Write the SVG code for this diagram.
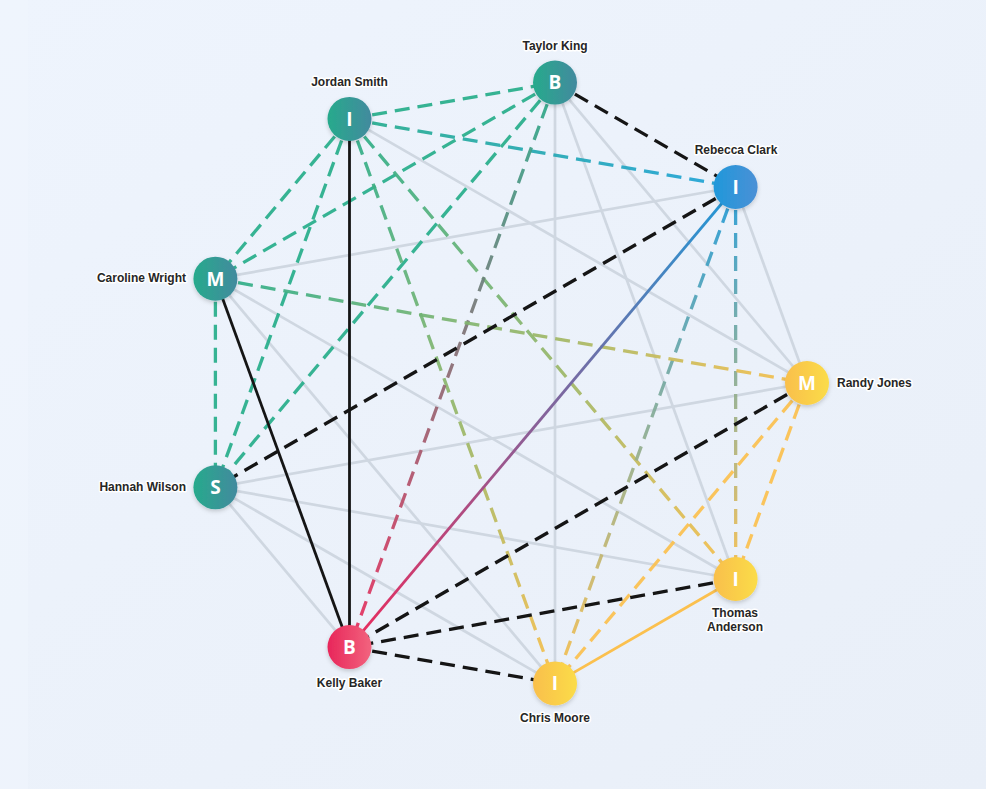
<svg xmlns="http://www.w3.org/2000/svg" width="986" height="789" viewBox="0 0 986 789">
<defs>
<linearGradient id="bg" x1="0" y1="0" x2="1" y2="1">
<stop offset="0" stop-color="#eef4fd"/>
<stop offset="1" stop-color="#e9eff8"/>
</linearGradient>
<linearGradient id="nTeal" x1="0" y1="0" x2="1" y2="0">
<stop offset="0" stop-color="#27aa8c"/>
<stop offset="1" stop-color="#428a9e"/>
</linearGradient>
<linearGradient id="nBlue" x1="0" y1="0" x2="1" y2="0">
<stop offset="0" stop-color="#1f98da"/>
<stop offset="1" stop-color="#4b90d6"/>
</linearGradient>
<linearGradient id="nYellow" x1="0" y1="0" x2="1" y2="0">
<stop offset="0" stop-color="#f9bf4c"/>
<stop offset="1" stop-color="#fbdc48"/>
</linearGradient>
<linearGradient id="nRed" x1="0" y1="0" x2="1" y2="0">
<stop offset="0" stop-color="#e8265a"/>
<stop offset="1" stop-color="#f2647e"/>
</linearGradient>
<linearGradient id="gJR" gradientUnits="userSpaceOnUse" x1="349.5" y1="118.9" x2="735.6" y2="187"><stop offset="0" stop-color="#27ad8a"/><stop offset="1" stop-color="#1fa2da"/></linearGradient>
<linearGradient id="gJTh" gradientUnits="userSpaceOnUse" x1="349.5" y1="118.9" x2="735.6" y2="579"><stop offset="0" stop-color="#27ad8a"/><stop offset="1" stop-color="#fbbf4a"/></linearGradient>
<linearGradient id="gJCh" gradientUnits="userSpaceOnUse" x1="349.5" y1="118.9" x2="555" y2="683.4"><stop offset="0" stop-color="#27ad8a"/><stop offset="1" stop-color="#fbbf4a"/></linearGradient>
<linearGradient id="gTK" gradientUnits="userSpaceOnUse" x1="555" y1="82.6" x2="349.5" y2="647.1"><stop offset="0" stop-color="#27ad8a"/><stop offset="1" stop-color="#ec2a5c"/></linearGradient>
<linearGradient id="gRK" gradientUnits="userSpaceOnUse" x1="735.6" y1="187" x2="349.5" y2="647.1"><stop offset="0" stop-color="#1f9ad8"/><stop offset="1" stop-color="#ec2a5c"/></linearGradient>
<linearGradient id="gRCh" gradientUnits="userSpaceOnUse" x1="735.6" y1="187" x2="555" y2="683.4"><stop offset="0" stop-color="#1f9ad8"/><stop offset="1" stop-color="#fbbf4a"/></linearGradient>
<linearGradient id="gRTh" gradientUnits="userSpaceOnUse" x1="735.6" y1="187" x2="735.6" y2="579"><stop offset="0" stop-color="#1f9ad8"/><stop offset="1" stop-color="#fbbf4a"/></linearGradient>
<linearGradient id="gCRa" gradientUnits="userSpaceOnUse" x1="215.4" y1="278.7" x2="807" y2="383"><stop offset="0" stop-color="#27ad8a"/><stop offset="1" stop-color="#fbbf4a"/></linearGradient>
<filter id="sh" x="-50%" y="-50%" width="200%" height="200%">
<feDropShadow dx="0" dy="2" stdDeviation="2" flood-color="#000" flood-opacity="0.18"/>
</filter>
<style>
.e{fill:none;stroke-linecap:butt}
.g{stroke:#cfd7e1;stroke-width:2.7}
.d{stroke-width:3.3;stroke-dasharray:15 8;opacity:0.92}
.s{stroke-width:2.8}
.k{stroke:#151515;opacity:1}
.t{stroke:#26ae8a}
.y{stroke:#fbc04e}
.lbl{font-family:"Liberation Sans",Arial,sans-serif;font-weight:bold;font-size:12px;fill:#262626;stroke:#ffffff;stroke-width:3;stroke-linejoin:round;paint-order:stroke}
.ltr{font-family:"Open Sans","Noto Sans","DejaVu Sans",sans-serif;font-weight:bold;font-size:19px;fill:#ffffff;text-anchor:middle}
</style>
</defs>
<rect x="0" y="0" width="986" height="789" fill="url(#bg)"/>
<rect x="0" y="0" width="28" height="789" fill="#f0f5fd" opacity="0.6"/>
<g id="connectors">
<line class="e g" x1="349.5" y1="118.9" x2="807" y2="383"/>
<line class="e g" x1="555" y1="82.6" x2="555" y2="683.4"/>
<line class="e g" x1="555" y1="82.6" x2="735.6" y2="579"/>
<line class="e g" x1="555" y1="82.6" x2="807" y2="383"/>
<line class="e g" x1="735.6" y1="187" x2="215.4" y2="278.7"/>
<line class="e g" x1="735.6" y1="187" x2="807" y2="383"/>
<line class="e g" x1="215.4" y1="278.7" x2="735.6" y2="579"/>
<line class="e g" x1="215.4" y1="278.7" x2="555" y2="683.4"/>
<line class="e g" x1="215.4" y1="487.3" x2="807" y2="383"/>
<line class="e g" x1="215.4" y1="487.3" x2="735.6" y2="579"/>
<line class="e g" x1="215.4" y1="487.3" x2="349.5" y2="647.1"/>
<line class="e g" x1="215.4" y1="487.3" x2="555" y2="683.4"/>
<line class="e d t" x1="349.5" y1="118.9" x2="555" y2="82.6"/>
<line class="e d t" x1="349.5" y1="118.9" x2="215.4" y2="278.7"/>
<line class="e d t" x1="349.5" y1="118.9" x2="215.4" y2="487.3"/>
<line class="e d t" x1="555" y1="82.6" x2="215.4" y2="278.7"/>
<line class="e d t" x1="555" y1="82.6" x2="215.4" y2="487.3"/>
<line class="e d t" x1="215.4" y1="278.7" x2="215.4" y2="487.3"/>
<line class="e d" stroke="url(#gJR)" x1="349.5" y1="118.9" x2="735.6" y2="187"/>
<line class="e d" stroke="url(#gJTh)" x1="349.5" y1="118.9" x2="735.6" y2="579"/>
<line class="e d" stroke="url(#gJCh)" x1="349.5" y1="118.9" x2="555" y2="683.4"/>
<line class="e d" stroke="url(#gTK)" x1="555" y1="82.6" x2="349.5" y2="647.1"/>
<line class="e d" stroke="url(#gRCh)" x1="735.6" y1="187" x2="555" y2="683.4"/>
<path class="e d" stroke="url(#gRTh)" d="M735.6 187 L735.7 579"/>
<line class="e d" stroke="url(#gCRa)" x1="215.4" y1="278.7" x2="807" y2="383"/>
<line class="e d y" x1="807" y1="383" x2="735.6" y2="579"/>
<line class="e d y" x1="807" y1="383" x2="555" y2="683.4"/>
<line class="e s y" x1="735.6" y1="579" x2="555" y2="683.4"/>
<line class="e s" stroke="url(#gRK)" x1="735.6" y1="187" x2="349.5" y2="647.1"/>
<line class="e s k" x1="349.5" y1="118.9" x2="349.5" y2="647.1"/>
<line class="e s k" x1="215.4" y1="278.7" x2="349.5" y2="647.1"/>
<line class="e d k" x1="555" y1="82.6" x2="735.6" y2="187"/>
<line class="e d k" x1="735.6" y1="187" x2="215.4" y2="487.3"/>
<line class="e d k" x1="807" y1="383" x2="349.5" y2="647.1"/>
<line class="e d k" x1="735.6" y1="579" x2="349.5" y2="647.1"/>
<line class="e d k" x1="349.5" y1="647.1" x2="555" y2="683.4"/>
</g>
<g id="node-taylor-king">
<circle cx="555" cy="82.6" r="22" fill="url(#nTeal)" filter="url(#sh)"/>
<text class="ltr" x="555" y="89.4">B</text>
<text class="lbl" x="555" y="50" text-anchor="middle">Taylor King</text>
</g>
<g id="node-jordan-smith">
<circle cx="349.5" cy="118.9" r="22" fill="url(#nTeal)" filter="url(#sh)"/>
<text class="ltr" x="349.5" y="125.7">I</text>
<text class="lbl" x="349.5" y="86" text-anchor="middle">Jordan Smith</text>
</g>
<g id="node-rebecca-clark">
<circle cx="735.6" cy="187" r="22" fill="url(#nBlue)" filter="url(#sh)"/>
<text class="ltr" x="735.6" y="193.8">I</text>
<text class="lbl" x="736" y="154" text-anchor="middle">Rebecca Clark</text>
</g>
<g id="node-caroline-wright">
<circle cx="215.4" cy="278.7" r="22" fill="url(#nTeal)" filter="url(#sh)"/>
<text class="ltr" x="215.4" y="285.5">M</text>
<text class="lbl" x="186" y="282" text-anchor="end">Caroline Wright</text>
</g>
<g id="node-randy-jones">
<circle cx="807" cy="383" r="22" fill="url(#nYellow)" filter="url(#sh)"/>
<text class="ltr" x="807" y="389.8">M</text>
<text class="lbl" x="837" y="386.5" text-anchor="start">Randy Jones</text>
</g>
<g id="node-hannah-wilson">
<circle cx="215.4" cy="487.3" r="22" fill="url(#nTeal)" filter="url(#sh)"/>
<text class="ltr" x="215.4" y="494.1">S</text>
<text class="lbl" x="186" y="491" text-anchor="end">Hannah Wilson</text>
</g>
<g id="node-thomas-anderson">
<circle cx="735.6" cy="579" r="22" fill="url(#nYellow)" filter="url(#sh)"/>
<text class="ltr" x="735.6" y="585.8">I</text>
<text class="lbl" x="735" y="617" text-anchor="middle">Thomas</text>
<text class="lbl" x="735" y="630.5" text-anchor="middle">Anderson</text>
</g>
<g id="node-kelly-baker">
<circle cx="349.5" cy="647.1" r="22" fill="url(#nRed)" filter="url(#sh)"/>
<text class="ltr" x="349.5" y="653.9">B</text>
<text class="lbl" x="349.5" y="686.5" text-anchor="middle">Kelly Baker</text>
</g>
<g id="node-chris-moore">
<circle cx="555" cy="683.4" r="22" fill="url(#nYellow)" filter="url(#sh)"/>
<text class="ltr" x="555" y="690.2">I</text>
<text class="lbl" x="555" y="722" text-anchor="middle">Chris Moore</text>
</g>
</svg>
